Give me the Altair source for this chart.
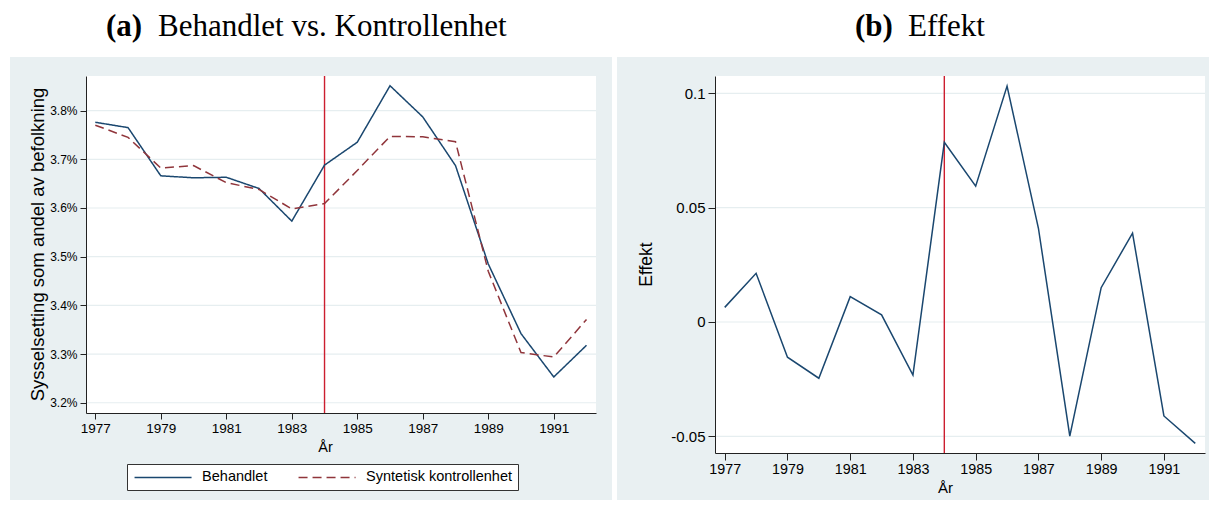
import altair as alt
import pandas as pd

# ---------------- data ----------------
years = list(range(1977, 1993))
behandlet = [3.776, 3.765, 3.666, 3.662, 3.663, 3.640, 3.573, 3.688,
             3.735, 3.851, 3.787, 3.687, 3.485, 3.342, 3.253, 3.318]
syntetisk = [3.770, 3.745, 3.682, 3.687, 3.652, 3.638, 3.598, 3.609,
             3.677, 3.747, 3.746, 3.736, 3.470, 3.303, 3.294, 3.371]
effekt = [0.0064, 0.0213, -0.0154, -0.0246, 0.0111, 0.0031, -0.0232, 0.0786,
          0.0594, 0.1032, 0.0410, -0.0499, 0.0150, 0.0389, -0.0411, -0.0531]
series_names = ["Behandlet", "Syntetisk kontrollenhet"]
treat_year = [1984]
x_ticks = [1977, 1979, 1981, 1983, 1985, 1987, 1989, 1991]
y_ticks_a = [3.2, 3.3, 3.4, 3.5, 3.6, 3.7, 3.8]
y_ticks_b = [-0.05, 0, 0.05, 0.1]

# ---------------- style ----------------
BG = "#e9f0f2"
GRID = "#e6eef0"
BLUE = "#1a476f"
MAROON = "#90353b"
RED = "#cc1e2f"
AX = "#222222"
SANS = "Liberation Sans"
SERIF = "Liberation Serif"

W1, H1 = 510, 337
W2, H2 = 490, 377

df_a = pd.DataFrame({
    "year": years * 2,
    "value": behandlet + syntetisk,
    "serie": [series_names[0]] * len(years) + [series_names[1]] * len(years),
})
df_b = pd.DataFrame({"year": years, "value": effekt})
one = alt.Data(values=[{}])


def panel(df, W, H, xdom, ydom, yticks, ylabelexpr, ytitle, ytitle_x, ytitle_y,
          ytitle_size, ylabel_size, xlabel_size, xtitle_x, xtitle_y, xtitle_size,
          ticksize, gray, tag, title_rest, tag_x, rest_x, legend):
    xs = alt.Scale(domain=xdom, nice=False, zero=False)
    ys = alt.Scale(domain=ydom, nice=False, zero=False)

    xaxis = alt.Axis(values=x_ticks, format="d", title="År",
                     titleX=xtitle_x, titleY=xtitle_y, titleAlign="center",
                     titleBaseline="alphabetic", titleFontSize=xtitle_size,
                     titleFontWeight="normal", titleFont=SANS, titleColor="black",
                     labelFont=SANS, labelFontSize=xlabel_size, labelColor="black",
                     labelPadding=2, tickSize=ticksize, tickColor=AX,
                     domainColor=AX, domainWidth=1, grid=False, zindex=1,
                     labelFlush=False, labelOverlap=False)
    yaxis = alt.Axis(values=yticks, labelExpr=ylabelexpr, title=ytitle,
                     titleX=ytitle_x, titleY=ytitle_y, titleAngle=270,
                     titleAlign="center", titleBaseline="alphabetic",
                     titleFontSize=ytitle_size, titleFontWeight="normal",
                     titleFont=SANS, titleColor="black",
                     labelFont=SANS, labelFontSize=ylabel_size, labelColor="black",
                     labelPadding=3, tickSize=ticksize, tickColor=AX,
                     domainColor=AX, domainWidth=1, grid=False, zindex=1,
                     labelFlush=False, labelOverlap=False)

    bg = alt.Chart(one).mark_rect(color=BG).encode(
        x=alt.value(gray[0]), x2=alt.value(gray[1]),
        y=alt.value(gray[2]), y2=alt.value(gray[3]))
    white = alt.Chart(one).mark_rect(color="white").encode(
        x=alt.value(0), x2=alt.value(W), y=alt.value(0), y2=alt.value(H))
    grid = alt.Chart(pd.DataFrame({"value": yticks})).mark_rule(
        color=GRID, strokeWidth=1.2).encode(
        y=alt.Y("value:Q", scale=ys, axis=yaxis))
    vline = alt.Chart(pd.DataFrame({"year": treat_year})).mark_rule(
        color=RED, strokeWidth=1.4).encode(
        x=alt.X("year:Q", scale=xs, axis=xaxis))

    enc = dict(
        x=alt.X("year:Q", scale=xs, axis=xaxis),
        y=alt.Y("value:Q", scale=ys, axis=yaxis),
    )
    if legend:
        # long line symbol drawn as a custom path, so the row stays low
        enc["color"] = alt.Color(
            "serie:N",
            scale=alt.Scale(domain=series_names, range=[BLUE, MAROON]),
            legend=alt.Legend(
                title=None, orient="none", legendX=41, legendY=388,
                direction="horizontal", symbolType="M-1,0H9", symbolSize=130,
                symbolStrokeWidth=1.5, labelFont=SANS, labelFontSize=14.5,
                labelColor="black", strokeColor="#333333", fillColor="white",
                padding=6, columnPadding=27, labelOffset=54.6,
                labelExpr="datum.label == 'Behandlet' ? datum.label : datum.label + '\u2002\u2002'"))
        enc["strokeDash"] = alt.StrokeDash(
            "serie:N",
            scale=alt.Scale(domain=series_names, range=[[1, 0], [9, 5]]))
        lines = alt.Chart(df).mark_line(strokeWidth=1.5).encode(**enc)
    else:
        lines = alt.Chart(df).mark_line(strokeWidth=1.5, color=BLUE).encode(**enc)

    t1 = alt.Chart(one).mark_text(font=SERIF, fontSize=31, fontWeight="bold",
                                  align="left", baseline="alphabetic",
                                  color="black").encode(
        x=alt.value(tag_x), y=alt.value(-40), text=alt.value(tag))
    t2 = alt.Chart(one).mark_text(font=SERIF, fontSize=31, fontWeight="normal",
                                  align="left", baseline="alphabetic",
                                  color="black").encode(
        x=alt.value(rest_x), y=alt.value(-40), text=alt.value(title_rest))

    return alt.layer(bg, white, grid, vline, lines, t1, t2).properties(
        width=W, height=H)


left = panel(df_a, W1, H1, [1976.716, 1992.29], [3.179, 3.871], y_ticks_a,
             "format(datum.value, '.1f') + '%'",
             "Sysselsetting som andel av befolkning", -42.5, 168, 18.5, 12, 13.5,
             239, 38, 14.5, 6, (-76, 526, -19, 424),
             "(a)", "Behandlet vs. Kontrollenhet", 20, 72, True)

right = panel(df_b, W2, H2, [1976.69, 1992.31], [-0.0573, 0.1076], y_ticks_b,
              "'' + datum.value",
              "Effekt", -63.3, 188, 17.5, 15, 14.3,
              230, 39, 15, 7, (-98, 494, -19, 424),
              "(b)", "Effekt", 140, 193, False)

chart = alt.hconcat(left, right, spacing=5).resolve_scale(
    color="independent", strokeDash="independent"
).resolve_legend(
    color="independent", strokeDash="independent"
).properties(
    padding={"left": 2, "top": 3, "right": 0, "bottom": 0},
    background="white",
).configure_view(stroke=None)

chart.save("out.html", embed_options={"renderer": "svg", "actions": False})
